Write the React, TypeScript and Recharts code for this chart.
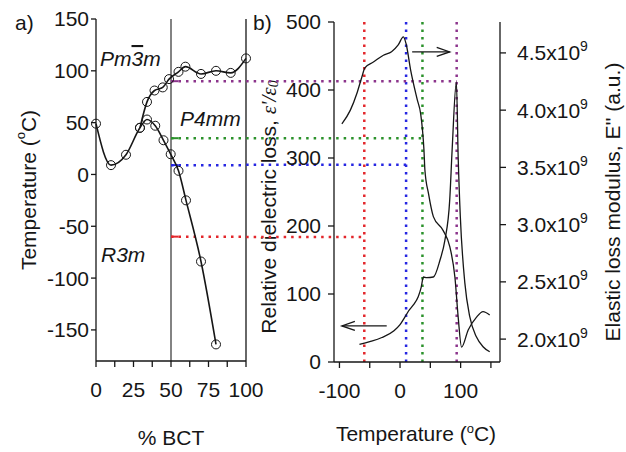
import { LineChart, Line, XAxis, YAxis, ReferenceLine } from "recharts";

// ── panel a: phase diagram (temperature vs % BCT) ──────────────────────────
const bctLower = [0, 10, 20, 29.3, 34, 39.5, 45, 49.8, 55, 60, 70, 80];
const tempLower = [49, 9, 19, 45, 53, 47, 33, 19.5, 3.5, -25, -84, -164];
const bctUpper = [29.3, 34, 39, 44.5, 48.7, 55, 59.6, 70, 80, 89.8, 100];
const tempUpper = [45, 70, 81, 84, 92, 99, 104, 97, 100, 98, 112];
const bctTicks = [0, 12.5, 25, 37.5, 50, 62.5, 75, 87.5, 100];
const tempTicks = [-150, -100, -50, 0, 50, 100, 150];

// ── panel b: dielectric loss + elastic loss modulus vs temperature ─────────
const dielT = [-67, -50, -30, -10, 0, 8, 14, 22, 30, 35, 38.5, 44, 55, 66, 74, 82, 86, 93, 96, 99.5, 107, 115, 126, 137, 148];
const dielLoss = [26, 30, 36, 46, 55, 66, 75, 84, 96, 110, 125, 124, 125, 150, 179, 238, 312, 412, 300, 214, 116, 67, 37, 22.5, 15];
const elastT = [-96, -82, -71, -63, -58, -44, -27.5, -14, -3, 5.5, 10, 17.5, 28.5, 34, 37, 39.5, 41, 47, 55, 71, 82, 90.6, 96, 101.6, 112.5, 126, 137, 148];
const elastMod = [3.88, 4.0, 4.15, 4.29, 4.37, 4.42, 4.48, 4.51, 4.57, 4.64, 4.58, 4.35, 4.09, 3.97, 3.83, 3.65, 3.48, 3.27, 3.07, 2.95, 2.81, 2.54, 2.19, 1.93, 2.08, 2.19, 2.24, 2.21]; // x10^9
const tempBTicks = [-100, -50, 0, 50, 100, 150];
const lossTicks = [0, 100, 200, 300, 400, 500];
const modTicks = [2.0, 2.5, 3.0, 3.5, 4.0, 4.5];

// ── transition guide lines (red, blue, green, purple) ──────────────────────
const transColors = ["#e3262b", "#2626e2", "#2b922b", "#8c348c"];
const transTempA = [-60, 9, 35, 90]; // panel a heights at 50 % BCT
const transLossB = [184, 290, 329, 413]; // same heights on panel b left axis
const transTempB = [-59, 10, 37, 93.5]; // panel b verticals
const bridgeT = -254; // where panel b's horizontals meet panel a's frame

// arrows: [from T, to T, at loss]
const arrowFromT = [20, -22];
const arrowToT = [82, -96];
const arrowAtLoss = [456, 53];

const ink = "#161616";
const axisStyle = { stroke: ink, strokeWidth: 1.3 };
const dotted = { strokeWidth: 2.5, strokeDasharray: "2.5 5" };

const pts = (xs: number[], ys: number[]) => xs.map((x, i) => ({ x, y: ys[i] }));

function BctTick({ x, y, payload }: any) {
  if (payload.value % 25 !== 0) return <g />;
  return (
    <text x={x} y={y} dy={28} textAnchor="middle" fontSize={21} fill={ink}>
      {payload.value}
    </text>
  );
}

function TempBTick({ x, y, payload }: any) {
  if (payload.value % 100 !== 0) return <g />;
  return (
    <text x={x} y={y} dy={28} textAnchor="middle" fontSize={21} fill={ink}>
      {payload.value}
    </text>
  );
}

function ModTick({ x, y, payload }: any) {
  return (
    <text x={x} y={y} dy={7.5} textAnchor="start" fontSize={21} fill={ink}>
      {payload.value.toFixed(1)}x10
      <tspan dy={-9} fontSize={14}>9</tspan>
    </text>
  );
}

function Arrow(props: any) {
  const { x1, y1, x2, y2 } = props;
  const dir = Math.sign(x2 - x1);
  return (
    <g>
      <line x1={x1} y1={y1} x2={x2} y2={y2} stroke={ink} strokeWidth={1.3} />
      <polyline
        points={`${x2 - dir * 13},${y2 - 4.5} ${x2},${y2} ${x2 - dir * 13},${y2 + 4.5}`}
        fill="none"
        stroke={ink}
        strokeWidth={1.3}
      />
    </g>
  );
}

function PanelA() {
  return (
    <LineChart width={272} height={452} margin={{ top: 19, right: 22, bottom: 61, left: 0 }}>
      <XAxis
        type="number"
        dataKey="x"
        domain={[0, 100]}
        ticks={bctTicks}
        interval={0}
        height={30}
        tickSize={6}
        tick={<BctTick />}
        axisLine={axisStyle}
        tickLine={axisStyle}
      />
      <XAxis xAxisId="top" orientation="top" type="number" domain={[0, 100]} height={0} tick={false} tickLine={false} axisLine={axisStyle} />
      <YAxis
        type="number"
        domain={[-180, 150]}
        ticks={tempTicks}
        interval={0}
        width={96}
        tickSize={5}
        tickMargin={2}
        tick={{ fontSize: 21, fill: ink }}
        axisLine={axisStyle}
        tickLine={axisStyle}
      />
      <YAxis yAxisId="frame" orientation="right" type="number" domain={[0, 1]} width={4} tick={false} tickLine={false} axisLine={axisStyle} />

      <ReferenceLine x={50} stroke="#5a5a5a" strokeWidth={1.5} />
      {transTempA.map((t, i) => (
        <ReferenceLine
          key={"a" + i}
          segment={[{ x: 50, y: t }, { x: 100, y: t }]}
          stroke={transColors[i]}
          {...dotted}
        />
      ))}
      {transTempA.map((t, i) => (
        <ReferenceLine key={"lead" + i} segment={[{ x: 50, y: t }, { x: 55, y: t }]} stroke={transColors[i]} strokeWidth={2} />
      ))}

      <Line
        data={pts(bctLower, tempLower)}
        dataKey="y"
        type="monotone"
        stroke={ink}
        strokeWidth={1.6}
        dot={{ r: 4.5, stroke: ink, strokeWidth: 1, fill: "none" }}
        isAnimationActive={false}
      />
      <Line
        data={pts(bctUpper, tempUpper)}
        dataKey="y"
        type="monotone"
        stroke={ink}
        strokeWidth={1.6}
        dot={{ r: 4.5, stroke: ink, strokeWidth: 1, fill: "none" }}
        isAnimationActive={false}
      />

      <text x={15} y={30} fontSize={21} fill={ink}>a)</text>
      <text x={100} y={66} fontSize={21} fontStyle="italic" fill={ink}>
        Pm<tspan style={{ textDecoration: "overline" }}>3</tspan>m
      </text>
      <text x={180} y={126} fontSize={21} fontStyle="italic" fill={ink}>P4mm</text>
      <text x={101} y={262} fontSize={21} fontStyle="italic" fill={ink}>R3m</text>
      <text x={171} y={445} fontSize={21} textAnchor="middle" fill={ink}>% BCT</text>
      <text x={28} y={190} transform="rotate(-90 28 190)" fontSize={21} textAnchor="middle" dominantBaseline="central" fill={ink}>
        {"Temperature ("}
        <tspan dy={-8} fontSize={13}>o</tspan>
        <tspan dy={8}>C)</tspan>
      </text>
    </LineChart>
  );
}

function PanelB() {
  return (
    <LineChart width={386} height={452} margin={{ top: 22, right: 0, bottom: 60, left: 0 }}>
      <XAxis
        type="number"
        dataKey="x"
        domain={[-109, 165]}
        ticks={tempBTicks}
        interval={0}
        height={30}
        tickSize={6}
        tick={<TempBTick />}
        axisLine={axisStyle}
        tickLine={axisStyle}
        allowDataOverflow
      />
      <XAxis xAxisId="top" orientation="top" type="number" domain={[0, 1]} height={0} tick={false} tickLine={false} axisLine={axisStyle} />
      <YAxis
        yAxisId="loss"
        type="number"
        domain={[0, 500]}
        ticks={lossTicks}
        interval={0}
        width={94}
        tickSize={6}
        tickMargin={7}
        tick={{ fontSize: 21, fill: ink }}
        axisLine={axisStyle}
        tickLine={axisStyle}
      />
      <YAxis
        yAxisId="mod"
        orientation="right"
        type="number"
        domain={[1.8, 4.77]}
        ticks={modTicks}
        interval={0}
        width={126}
        tickSize={6}
        tickMargin={11}
        tick={<ModTick />}
        axisLine={axisStyle}
        tickLine={axisStyle}
        allowDataOverflow
      />

      {transTempB.map((t, i) => (
        <ReferenceLine key={"v" + i} x={t} yAxisId="loss" stroke={transColors[i]} {...dotted} />
      ))}
      {transLossB.map((l, i) => (
        <ReferenceLine
          key={"h" + i}
          yAxisId="loss"
          segment={[{ x: bridgeT, y: l }, { x: transTempB[i], y: l }]}
          ifOverflow="visible"
          stroke={transColors[i]}
          {...dotted}
        />
      ))}

      <Line
        yAxisId="loss"
        data={pts(dielT, dielLoss)}
        dataKey="y"
        type="monotone"
        stroke={ink}
        strokeWidth={1.3}
        dot={false}
        isAnimationActive={false}
      />
      <Line
        yAxisId="mod"
        data={pts(elastT, elastMod)}
        dataKey="y"
        type="monotone"
        stroke={ink}
        strokeWidth={1.3}
        dot={false}
        isAnimationActive={false}
      />

      {arrowFromT.map((t, i) => (
        <ReferenceLine
          key={"arr" + i}
          yAxisId="loss"
          segment={[{ x: t, y: arrowAtLoss[i] }, { x: arrowToT[i], y: arrowAtLoss[i] }]}
          shape={Arrow}
        />
      ))}

      <text x={13} y={30} fontSize={21} fill={ink}>b)</text>
      <text x={176} y={441} fontSize={21} textAnchor="middle" fill={ink}>
        {"Temperature ("}
        <tspan dy={-8} fontSize={13}>o</tspan>
        <tspan dy={8}>C)</tspan>
      </text>
      <text x={28.5} y={207} transform="rotate(-90 28.5 207)" fontSize={21} textAnchor="middle" dominantBaseline="central" fill={ink}>
        {"Relative dielectric loss, "}
        <tspan fontFamily='"Liberation Serif", serif' fontStyle="italic">
          {"ε'/ε"}
          <tspan dy={4} fontSize={14}>0</tspan>
        </tspan>
      </text>
      <text x={372} y={202} transform="rotate(-90 372 202)" fontSize={21} textAnchor="middle" dominantBaseline="central" fill={ink}>
        Elastic loss modulus, E'' (a.u.)
      </text>
    </LineChart>
  );
}

export default function App() {
  return (
    <div
      style={{
        position: "absolute",
        left: 0,
        top: 0,
        width: 626,
        height: 452,
        background: "#fff",
        fontFamily: '"Liberation Sans", Arial, sans-serif',
      }}
    >
      <div style={{ position: "absolute", left: 0, top: 0 }}>
        <PanelA />
      </div>
      <div style={{ position: "absolute", left: 240, top: 0 }}>
        <PanelB />
      </div>
    </div>
  );
}
